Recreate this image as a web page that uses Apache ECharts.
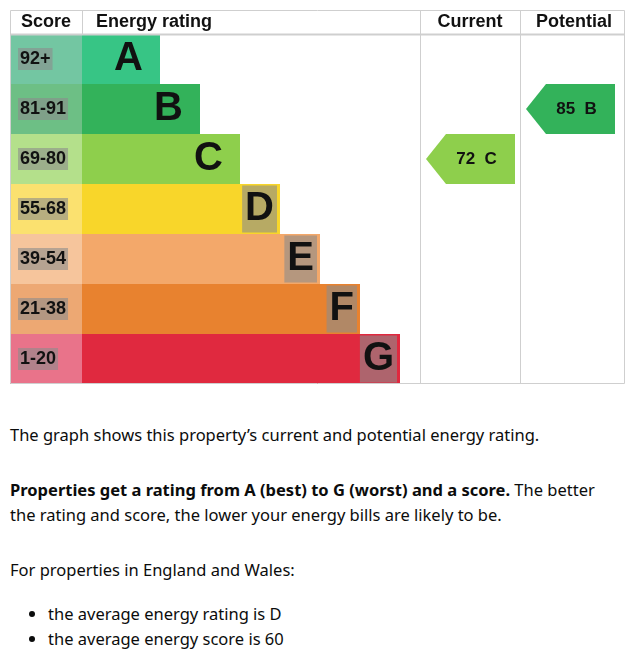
<!DOCTYPE html>
<html>
<head>
<meta charset="utf-8">
<script src="https://cdn.jsdelivr.net/npm/echarts@6/dist/echarts.min.js"></script>
<style>
  body { margin: 0; background: #fff; }
  #wrap { width: 632px; height: 392px; }
  .txt { font-family: "Noto Sans", "Liberation Sans", sans-serif; font-size: 16.5px; color: #0b0c0c; margin: 0 10px; line-height: 25px; }
  ul { margin: 0; padding-left: 38px; }
</style>
</head>
<body>
<div id="wrap"></div>
<div class="txt" style="margin-top:30px">The graph shows this property’s current and potential energy rating.</div>
<div class="txt" style="margin-top:30px"><b>Properties get a rating from A (best) to G (worst) and a score.</b> The better the rating and score, the lower your energy bills are likely to be.</div>
<div class="txt" style="margin-top:30px">For properties in England and Wales:</div>
<ul class="txt" style="margin-top:19px">
  <li>the average energy rating is D</li>
  <li>the average energy score is 60</li>
</ul>
<script>
var bands = ['A', 'B', 'C', 'D', 'E', 'F', 'G'];
var scores = ['92+', '81-91', '69-80', '55-68', '39-54', '21-38', '1-20'];
var barLen = [78, 118, 158, 198, 238, 278, 318];
var bandColors = ['#37c585', '#33b25a', '#8ecf4c', '#f8d62a', '#f3a86a', '#e8822f', '#e0293f'];
var scoreColors = ['#73c6a2', '#6dbf85', '#b4e08b', '#fbe16f', '#f6c59c', '#eda873', '#e9738a'];
var current = { score: 72, band: 'C' };
var potential = { score: 85, band: 'B' };

var font = 'Liberation Sans';
var gray = '#cfcfcf';
var labelBg = 'rgba(140,140,140,0.6)';

function arrowSeries(item, x0, x1) {
  return {
    type: 'custom',
    data: [[0, bands.indexOf(item.band)]],
    renderItem: function (params, api) {
      var p = api.coord([0, api.value(1)]);
      var h = api.size([0, 1])[1];
      var t = p[1] - h / 2, b = p[1] + h / 2;
      return {
        type: 'group',
        children: [{
          type: 'polygon',
          shape: { points: [[x0, p[1]], [x0 + 20, t], [x1, t], [x1, b], [x0 + 20, b]] },
          style: { fill: bandColors[api.value(1)] }
        }, {
          type: 'text',
          style: {
            x: (x0 + x1) / 2 + 6, y: p[1], text: item.score + '  ' + item.band,
            align: 'center', verticalAlign: 'middle',
            font: 'bold 17px ' + font, fill: '#111'
          }
        }]
      };
    }
  };
}

var option = {
  animation: false,
  grid: { left: 10, top: 34, width: 615, height: 350 },
  xAxis: { type: 'value', min: 0, max: 615, show: false },
  yAxis: { type: 'category', data: bands, inverse: true, show: false },
  graphic: [
    { type: 'rect', shape: { x: 10.5, y: 10.5, width: 614, height: 373 }, style: { fill: 'none', stroke: gray, lineWidth: 1 }, z: 10 },
    { type: 'line', shape: { x1: 10, y1: 34.5, x2: 625, y2: 34.5 }, style: { stroke: gray, lineWidth: 2 }, z: 10 },
    { type: 'line', shape: { x1: 82.5, y1: 10, x2: 82.5, y2: 34 }, style: { stroke: gray }, z: 10 },
    { type: 'line', shape: { x1: 420.5, y1: 10, x2: 420.5, y2: 384 }, style: { stroke: gray }, z: 10 },
    { type: 'line', shape: { x1: 520.5, y1: 10, x2: 520.5, y2: 384 }, style: { stroke: gray }, z: 10 },
    { type: 'text', style: { x: 46, y: 22, text: 'Score', align: 'center', verticalAlign: 'middle', font: 'bold 18px ' + font, fill: '#111' } },
    { type: 'text', style: { x: 96, y: 22, text: 'Energy rating', verticalAlign: 'middle', font: 'bold 18px ' + font, fill: '#111' } },
    { type: 'text', style: { x: 470, y: 22, text: 'Current', align: 'center', verticalAlign: 'middle', font: 'bold 18px ' + font, fill: '#111' } },
    { type: 'text', style: { x: 574, y: 22, text: 'Potential', align: 'center', verticalAlign: 'middle', font: 'bold 18px ' + font, fill: '#111' } }
  ],
  series: [
    {
      type: 'bar', stack: 'r', barCategoryGap: 0,
      data: scores.map(function (s, i) {
        return { value: 72, itemStyle: { color: scoreColors[i] } };
      }),
      label: {
        show: true, position: 'insideLeft', distance: 8,
        formatter: function (p) { return scores[p.dataIndex]; },
        font: 'bold 18px ' + font, fontWeight: 'bold', fontSize: 18, fontFamily: font, color: '#111',
        backgroundColor: labelBg, padding: [3, 2, 1, 2]
      }
    },
    {
      type: 'bar', stack: 'r', barCategoryGap: 0,
      data: barLen.map(function (v, i) {
        return {
          value: v, itemStyle: { color: bandColors[i] },
          label: i < 3 ? { distance: 14, backgroundColor: 'transparent' } : { distance: 3 }
        };
      }),
      label: {
        show: true, position: 'insideRight',
        formatter: function (p) { return bands[p.dataIndex]; },
        fontWeight: 'bold', fontSize: 40, fontFamily: font, color: '#111',
        backgroundColor: labelBg, padding: [3, 3, 2, 3], lineHeight: 42
      }
    },
    arrowSeries(current, 426, 515),
    arrowSeries(potential, 526, 615)
  ]
};

var myChart = echarts.init(document.getElementById('wrap'));
myChart.setOption(option);
</script>
</body>
</html>
